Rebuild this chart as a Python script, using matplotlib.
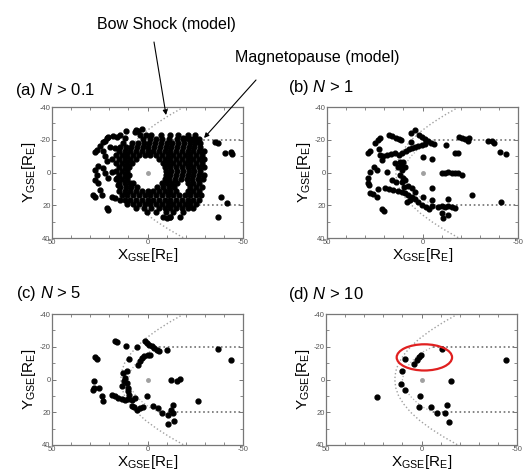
import matplotlib.pyplot as plt
from matplotlib.patches import Ellipse
from matplotlib.ticker import MultipleLocator

plt.rcParams['font.family'] = ['Liberation Sans', 'DejaVu Sans']
plt.rcParams['mathtext.fontset'] = 'custom'
plt.rcParams['mathtext.rm'] = 'Liberation Sans'
plt.rcParams['mathtext.it'] = 'Liberation Sans:italic'
plt.rcParams['axes.unicode_minus'] = False

# model boundaries, X/Y in Earth radii
bs_y = [-40, -35, -30, -25, -20, -15, -10, -5, 0, 5, 10, 15, 20, 25, 30, 35, 40]
bs_x = [-19, -11.5, -4.8, 1, 5.7, 9.3, 12, 13.5, 14, 13.5, 12, 9.3, 5.7, 1, -4.8, -11.5, -19]
mp_y = [-20, -17, -14, -10, -5, 0, 5, 10, 14, 17, 20]
mp_x = [-6, -1, 2.5, 6, 9, 10, 9, 6, 2.5, -1, -6]
mp_flank_x = [-6, -50]

# (a) N > 0.1 : dense ring around Earth, typed row by row
a_row_y = [-23, -20.5, -18, -15.5, -13, -11, -8.5, -6, -3.5, -1, 1.5, 4, 6.5, 9,
           11.5, 14, 16.5, 19, 21.5, 24, 27]
a_row_x = [
    [4, -2, -7, -12, -16, -21, -25],
    [2.5, -1.5, -4.5, -7.5, -11.5, -15.5, -18.5, -21.5, -24.5, -27],
    [13, 8, 5, 2, -1, -4, -7, -10, -13, -16, -19, -22, -25, -27.5],
    [14.5, 11.5, 8.5, 5.5, 2.5, -0.5, -3.5, -6.5, -9.5, -12.5, -15.5, -18.5, -21.5, -24.5, -27.5],
    [15, 12, 9, 6, 3, 0, -3, -6, -9, -12, -15, -18, -21, -24, -27, -29.5],
    [16.5, 13.5, 10.5, 7.5, 4.5, 1.5, -1.5, -4.5, -7.5, -10.5, -13.5, -16.5, -19.5, -22.5, -25.5, -28.5],
    [15, 12, 9, 6, -6, -9, -12, -15, -18, -21, -24, -27, -29.5],
    [16.5, 13.5, 10.5, 8, -8, -10.5, -13.5, -16.5, -19.5, -22.5, -25.5, -28.5],
    [15, 12, 9.5, -9, -12, -15, -18, -21, -24, -27, -29.5],
    [16.5, 13.5, 10.5, -9.5, -12.5, -15.5, -18.5, -21.5, -24.5, -27.5],
    [15, 12, 9.5, -9.5, -12, -15, -18, -21, -24, -27, -29.5],
    [16.5, 13.5, 10.5, -9, -11.5, -14.5, -17.5, -20.5, -23.5, -26.5, -29],
    [15, 12, 9, 7.5, -7.5, -10, -13, -15.5, -21, -24, -27],
    [14.5, 11.5, 8.5, 5.5, -5, -8, -11, -14, -22.5, -25.5, -28.5],
    [15, 12, 9, 6, 3, 0, -3, -6, -9, -12, -15, -21, -24, -27],
    [13.5, 10.5, 7.5, 4.5, 1.5, -1.5, -4.5, -7.5, -10.5, -13.5, -16.5, -19.5, -22.5, -25.5, -28],
    [12, 9, 6, 3, 0, -3, -6, -9, -12, -15, -18, -21, -24, -27],
    [10.5, 7.5, 4.5, 1.5, -1.5, -4.5, -7.5, -10.5, -13.5, -16.5, -19.5, -22.5, -25.5],
    [6, 2, -2, -6, -9, -12, -15, -18, -21, -24],
    [0.5, -4.5, -9.5, -13.5, -18.5],
    [-8, -12, -17],
]
a_out_x = [27.5, 26.5, 23.1, 21.4, 20.5, 16.1, 14.4, 11.8, 6.5, 4.8, 3.0, 23.1, 22.3, 21.4,
           18.8, 19.6, 17, 25.8, 27.5, 26.6, 27.5, 25.8, 23.1, 22.3, 20.5, 18.8, 16.1, 15.3,
           28.4, 27.5, 24.9, 24, 21.4, 20.5, 18.8, 17, 14.4, 25, 22.4, 18, 11.1, 5.8, 0.6,
           -18.8, -20.5, -22.3, -24, -25.8, -35.3, -37.1, -40.6, -43.7, -44.4, -38.5,
           -41.5, -36.7, -10, -11.8]
a_out_y = [-12.7, -13.5, -18.8, -20.9, -21.9, -21.9, -22.9, -20.9, -24.9, -25.5, -26.4,
           -13.3, -10.3, -7.2, -8.2, -15.8, -14.8, -4.2, -1.5, 1.5, 4.6, 6.2, -2.6, 0.5, 3.5,
           -0.5, 3.5, 7.6, 13.7, 14.7, 10.7, 13.7, 21.9, 22.9, 14.8, 15.8, 16.8, -16, -19,
           -22, -25.1, -25.7, -23.1, -20.9, -21, -20.6, -20.3, -20, -18.8, -18.2, -12.1,
           -12.7, -11.3, 14.8, 18.8, 27.4, 28, 27]

# (b) N > 1
b_x = [28.7, 27.5, 24.9, 23.5, 22.1, 17.5, 15.8, 14.0, 12.3, 11.3, 6.2, 3.9, 6.2, 1.8, 0.4,
       -1.3, -2.7, -4.5, -5.8, -12.1, -19.1, -20.9, -22.3, -23.6, -24.3, -34.5, -36.2,
       -37.6, -17.0, -18.4, -40.6, -43.5, -0.4, -4.8, 22.8, 22.3, 21.4, 20.5, 18.8, 16.5,
       14.4, 12.3, 10.6, 8.8, 7.1, 5.3, 3.9, 2.2, 0.4, -1.3, 11.8, 12.7, 10.9, 11.8, 10.0,
       10.6, 14.4, 18.8, 16.1, 13.9, 28.4, 28.7, 27.8, 27.5, 25.2, 24.0, 27.5, 25.7, 23.1,
       24.0, 21.4, 20.0, 19.6, 17.5, 15.3, 13.0, 10.9, 9.2, 7.4, 5.7, 3.9, 9.5, 7.4, 5.3,
       3.9, 6.5, 8.3, 2.2, 0.4, -1.7, -3.4, -4.8, -4.8, -0.4, -4.8, -13.2, -8.3, -10.0,
       -11.8, -13.5, -15.3, -17.0, -10.4, -13.2, -10.9, -25.7, -41.1, -10.0, -11.8, -13.5,
       -15.3, -17.0, -18.8, -20.5, 9.2, 10.0, 9.2, 11.3]
b_y = [-12.1, -13.3, -18.2, -19.8, -21.1, -23.1, -22.3, -21.3, -20.4, -19.6, -23.9, -25.9,
       -18.8, -23.1, -21.9, -20.4, -19.2, -18.2, -17.2, -16.8, -21.5, -21.3, -20.4, -19.4,
       -21.3, -19.0, -19.4, -18.2, -12.1, -12.1, -12.3, -11.3, -9.7, -8.0, -14.1, -10.7,
       -7.6, -10.1, -10.7, -11.3, -11.7, -10.7, -11.7, -13.3, -14.1, -14.7, -15.8, -16.2,
       -16.8, -17.4, -6.6, -3.5, -1.5, 1.5, 3.6, 5.6, -6.0, -0.5, 4.6, 5.6, 3.6, 6.2, 7.7,
       -0.5, -3.5, -1.5, 12.7, 13.2, 10.3, 14.8, 22.5, 23.5, 9.7, 10.3, 10.7, 11.1, 11.7,
       12.7, 14.0, 15.2, 16.4, 9.1, 8.3, 9.7, 11.7, 16.8, 17.8, 17.8, 19.9, 21.3, 22.5, 20.5,
       16.8, 15.2, 9.7, 16.4, 20.9, 20.5, 21.3, 20.5, 20.9, 21.9, 25.0, 26.0, 28.0, 13.8,
       17.8, 0.1, 0.1, -0.1, 0.1, 0.1, 0.5, 1.5, 4.6, -6.6, -3.5, -4.6]

# (c) N > 5
c_x = [17.0, 16.1, 11.3, 5.7, 1.3, 0.1, -1.0, -2.2, -3.4, -4.8, -6.2, -10.0, -37.1, -43.7,
       27.5, 26.6, 9.5, 4.8, 3.9, 3.1, 1.7, -0.1, -1.5, 10.9, 11.8, 12.1, 10.9, 13.2, 10.0,
       10.4, 9.7, 27.8, 27.8, 28.4, 25.2, 24.0, 23.1, 18.8, 17.0, 15.3, 13.5, 11.8, 10.0,
       8.3, 6.5, 0.4, -12.3, -15.3, -17.0, -26.3, 8.3, 6.9, 5.7, 3.9, 2.2, -3.1, -5.7, -7.8,
       -10.9, -13.5, -13.5, -12.3, -10.6, -14.0, 12.7]
c_y = [-23.7, -22.7, -20.2, -19.6, -23.3, -22.3, -21.3, -20.2, -19.2, -18.2, -17.6, -18.2,
       -18.6, -11.7, -13.5, -12.7, -12.5, -9.0, -11.1, -13.1, -14.1, -14.7, -15.2, -5.4,
       -0.9, 1.1, 2.2, 4.2, 5.2, 7.3, 9.3, 0.7, 5.2, 6.2, 5.2, 10.3, 13.4, 9.7, 10.3, 11.3,
       11.7, 12.3, 11.7, 12.3, 11.3, 10.3, 0.1, 0.7, -0.5, 13.0, 16.4, 17.0, 18.5, 17.4,
       17.0, 16.4, 17.4, 20.5, 21.5, 20.5, 15.8, 18.5, 27.2, 25.6, -4.0]

# (d) N > 10
d_x = [8.8, 3.9, 2.2, 1.3, 0.4, -10.9, -44.1, 10.0, 10.9, 8.8, 23.5, 0.8, 1.3, -5.1, -8.3,
       -12.3, -13.5, -14.4, -15.6]
d_y = [-12.7, -9.5, -12.1, -13.5, -14.8, -18.8, -11.7, -5.0, 2.7, 6.2, 10.7, 10.3, 17.0,
       17.0, 20.7, 20.7, 15.8, 26.0, 1.1]

# highlighted region in (d)
ell_center = (-1.5, -13.5)
ell_w, ell_h = 29, 16

fig = plt.figure(figsize=(5.26, 4.70), dpi=100)


def setup(ax):
    ax.set_xlim(50, -50)
    ax.set_ylim(40, -40)
    ax.set_xticks([50, 0, -50])
    ax.set_xticklabels(['50', '0', '-50'])
    ax.xaxis.set_minor_locator(MultipleLocator(10))
    ax.set_yticks([-40, -20, 0, 20, 40])
    ax.yaxis.set_minor_locator(MultipleLocator(10))
    ax.tick_params(which='both', direction='in', top=True, right=True,
                   colors='#777', labelcolor='#555', labelsize=5.5, pad=1)
    ax.tick_params(which='major', length=3, width=0.7)
    ax.tick_params(which='minor', length=2, width=0.6)
    for s in ax.spines.values():
        s.set_color('#777')
        s.set_linewidth(0.9)
    ax.plot(bs_x, bs_y, ':', color='#a0a0a0', lw=1.0, zorder=1)
    ax.plot(mp_x, mp_y, ':', color='#b0b0b0', lw=0.9, zorder=1)
    ax.plot(mp_flank_x, [-20, -20], ':', color='#707070', lw=1.2, zorder=1)
    ax.plot(mp_flank_x, [20, 20], ':', color='#707070', lw=1.2, zorder=1)
    ax.plot([0], [0], 'o', color='#a0a0a0', ms=2.5, zorder=2)
    ax.set_xlabel(r'X$_{\mathrm{GSE}}$[R$_{\mathrm{E}}$]', fontsize=11, labelpad=0)
    ax.set_ylabel(r'Y$_{\mathrm{GSE}}$[R$_{\mathrm{E}}$]', fontsize=11, labelpad=1)


ax_a = fig.add_axes([0.0989, 0.4936, 0.3631, 0.2787])
ax_b = fig.add_axes([0.6217, 0.4936, 0.3631, 0.2787])
ax_c = fig.add_axes([0.0989, 0.0532, 0.3631, 0.2787])
ax_d = fig.add_axes([0.6198, 0.0532, 0.3631, 0.2787])
for ax in (ax_a, ax_b, ax_c, ax_d):
    setup(ax)

a_x = [x for row in a_row_x for x in row] + a_out_x
a_y = [y for y, row in zip(a_row_y, a_row_x) for _ in row] + a_out_y
ax_a.plot(a_x, a_y, 'o', color='k', ms=3.5, zorder=3)
ax_b.plot(b_x, b_y, 'o', color='k', ms=3.4, zorder=3)
ax_c.plot(c_x, c_y, 'o', color='k', ms=3.5, zorder=3)
ax_d.plot(d_x, d_y, 'o', color='k', ms=3.5, zorder=3)
ax_d.add_patch(Ellipse(ell_center, ell_w, ell_h, fill=False, edgecolor='#e02020',
                       lw=1.6, zorder=4))

# panel titles
fig.text(15 / 526, 1 - 95 / 470, r'(a) $N$ > 0.1', fontsize=12, va='baseline')
fig.text(288 / 526, 1 - 92 / 470, r'(b) $N$ > 1', fontsize=12, va='baseline')
fig.text(16 / 526, 1 - 298 / 470, r'(c) $N$ > 5', fontsize=12, va='baseline')
fig.text(288 / 526, 1 - 299 / 470, r'(d) $N$ > 10', fontsize=12, va='baseline')

# model annotations
fig.text(97 / 526, 1 - 29 / 470, 'Bow Shock (model)', fontsize=11.5, va='baseline')
fig.text(235 / 526, 1 - 62 / 470, 'Magnetopause (model)', fontsize=11.5, va='baseline')
ax_a.annotate('', xy=(-9.7, -35.1), xycoords='data',
              xytext=(154 / 526, 1 - 42 / 470), textcoords='figure fraction',
              arrowprops=dict(arrowstyle='-|>', color='k', lw=0.8, mutation_scale=7,
                              shrinkA=0, shrinkB=0), annotation_clip=False)
ax_a.annotate('', xy=(-29.6, -21.1), xycoords='data',
              xytext=(256 / 526, 1 - 80 / 470), textcoords='figure fraction',
              arrowprops=dict(arrowstyle='-|>', color='k', lw=0.8, mutation_scale=7,
                              shrinkA=0, shrinkB=0), annotation_clip=False)

fig.savefig('out.png', dpi=100)
